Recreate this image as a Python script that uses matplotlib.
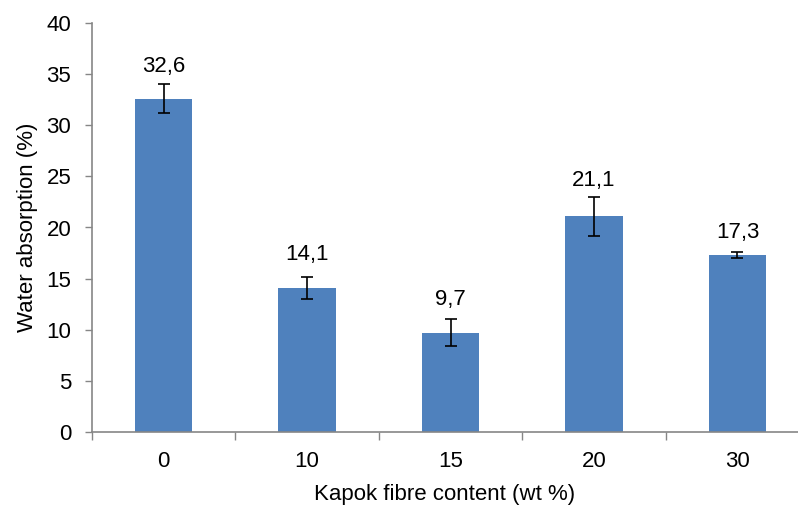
import matplotlib

matplotlib.use("Agg")
import matplotlib.pyplot as plt
import numpy as np

plt.rcParams["font.family"] = ["Liberation Sans", "DejaVu Sans"]

# data
categories = ["0", "10", "15", "20", "30"]
absorption = [32.6, 14.1, 9.7, 21.1, 17.3]
errors = [1.45, 1.05, 1.33, 1.9, 0.3]
value_labels = ["32,6", "14,1", "9,7", "21,1", "17,3"]

BAR_COLOR = "#4F81BD"
AXIS_COLOR = "#868686"
FS = 16

fig = plt.figure(figsize=(7.98, 5.07), dpi=100)
# the category axis runs past the right edge of the picture (cropped chart)
ax = fig.add_axes([92 / 798, 75 / 507, 706 / 798, 409 / 507])

x = np.arange(len(categories))
ax.bar(x, absorption, width=0.4, color=BAR_COLOR, zorder=2)
ax.errorbar(x, absorption, yerr=errors, fmt="none", ecolor="black",
            elinewidth=1.2, capsize=4.5, capthick=1.2, zorder=3)

# labels sit just above the error bar caps (offset in px from cap)
label_gap_px = [17, 23, 20, 16, 20]
for xi, v, e, lab, gap in zip(x, absorption, errors, value_labels, label_gap_px):
    ax.annotate(lab, (xi, v + e), xytext=(0, gap * 0.72), textcoords="offset points",
                ha="center", va="center", fontsize=FS)

ax.set_ylim(0, 40)
ax.set_yticks(np.arange(0, 41, 5))
ax.set_xlim(-0.5, 4.422)
ax.set_xticks(x)
ax.set_xticklabels(categories)
ax.set_xticks(np.arange(-0.5, 4.5, 1.0), minor=True)
ax.tick_params(axis="x", which="major", length=0, pad=14, labelsize=FS)
ax.tick_params(axis="x", which="minor", length=6, width=1, color=AXIS_COLOR, direction="out")
ax.tick_params(axis="y", length=5, width=1, color=AXIS_COLOR, direction="out", labelsize=FS, pad=10)

for side in ("top", "right"):
    ax.spines[side].set_visible(False)
for side in ("left", "bottom"):
    ax.spines[side].set_color(AXIS_COLOR)
    ax.spines[side].set_linewidth(1.2)

ax.set_xlabel("Kapok fibre content (wt %)", fontsize=FS, labelpad=8)
ax.set_ylabel("Water absorption (%)", fontsize=FS, labelpad=6)

fig.savefig("out.png", dpi=100)
plt.close(fig)
